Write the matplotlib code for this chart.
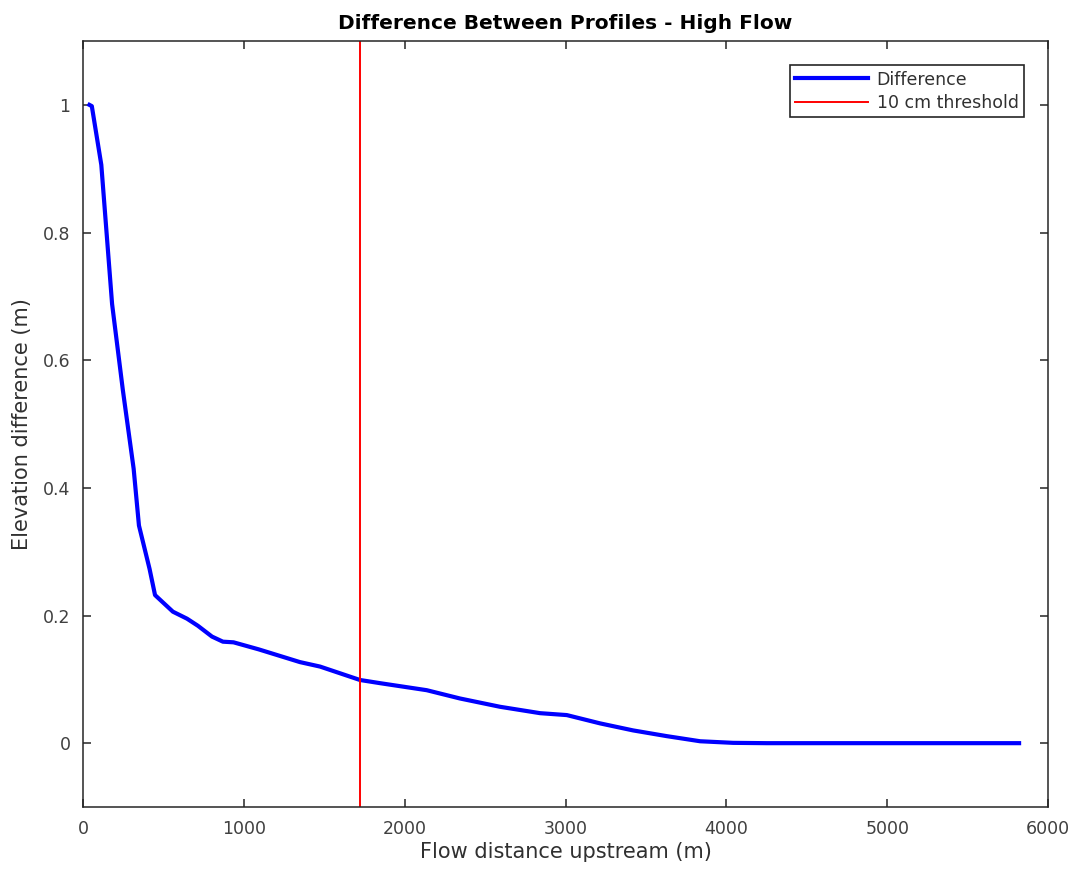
import matplotlib.pyplot as plt

# Profile difference
distance = [40, 55, 114, 181, 248, 315, 348, 414, 448, 559, 647, 714, 802, 870,
            936, 1092, 1349, 1474, 1722, 1847, 2137, 2344, 2593, 2842, 3008,
            3215, 3420, 3630, 3837, 4042, 4251, 4500, 5000, 5500, 5820]
difference = [1.0, 0.998, 0.906, 0.688, 0.553, 0.430, 0.341, 0.273, 0.232, 0.206,
              0.195, 0.184, 0.167, 0.159, 0.158, 0.147, 0.127, 0.120, 0.099, 0.094,
              0.083, 0.070, 0.057, 0.047, 0.044, 0.031, 0.020, 0.011, 0.003, 0.0005,
              0.0, 0.0, 0.0, 0.0, 0.0]
threshold_x = 1722

plt.rcParams['font.family'] = ['DejaVu Sans']

fig = plt.figure(figsize=(10.79, 8.73), dpi=100)
ax = fig.add_axes([0.0769, 0.0756, 0.8944, 0.8774])

ax.plot(distance, difference, color='#0000ff', lw=3, label='Difference')
ax.axvline(threshold_x, color='#ff0000', lw=1.4, label='10 cm threshold')

ax.set_xlim(0, 6000)
ax.set_ylim(-0.1, 1.1)
ax.set_xticks([0, 1000, 2000, 3000, 4000, 5000, 6000])
ax.set_yticks([0, 0.2, 0.4, 0.6, 0.8, 1])
ax.set_yticklabels(['0', '0.2', '0.4', '0.6', '0.8', '1'])
ax.tick_params(direction='in', top=True, right=True, labelsize=12.5,
               colors='#262626', labelcolor='#404040', length=6, width=1.1)
ax.tick_params(axis='x', pad=9)
ax.tick_params(axis='y', pad=9)
for s in ax.spines.values():
    s.set_color('#262626')
    s.set_linewidth(1.1)

ax.set_xlabel('Flow distance upstream (m)', fontsize=15, color='#303030', labelpad=3)
ax.set_ylabel('Elevation difference (m)', fontsize=15, color='#303030', labelpad=8)
ax.set_title('Difference Between Profiles - High Flow', fontsize=14.5,
             fontweight='bold', pad=9)

leg = ax.legend(loc='upper right', fontsize=12.5, fancybox=False, framealpha=1,
                edgecolor='#262626', borderaxespad=1.4, handlelength=4.2,
                handletextpad=0.5, borderpad=0.3, labelspacing=0.3)
leg.get_frame().set_linewidth(1.2)
for t in leg.get_texts():
    t.set_color('#303030')

plt.savefig('out.png', dpi=100)
